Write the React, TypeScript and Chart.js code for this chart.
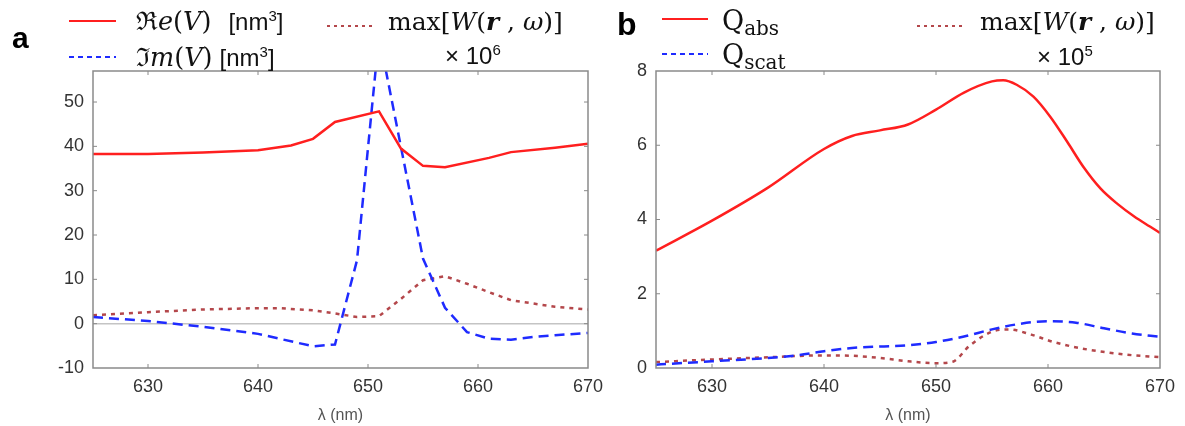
import React, { useEffect, useRef } from "react";
import { Chart, registerables } from "chart.js";

Chart.register(...registerables);

// ---------- data ----------
const LAMBDA_TICKS = [630, 640, 650, 660, 670];
const A_Y_TICKS = [-10, 0, 10, 20, 30, 40, 50];
const B_Y_TICKS = [0, 2, 4, 6, 8];

// panel a
const A_RE_X = [625, 630, 635, 640, 643, 645, 647, 651, 653, 655, 657, 661, 663, 667, 670];
const A_RE_Y = [38.3, 38.3, 38.6, 39.1, 40.2, 41.7, 45.5, 47.9, 39.5, 35.6, 35.3, 37.4, 38.7, 39.7, 40.6];

const A_IM_X = [625, 630, 635, 640, 645, 647, 649, 651, 653, 655, 657, 659, 661, 663, 665, 667, 670];
const A_IM_Y = [1.5, 0.6, -0.7, -2.3, -5.1, -4.7, 14.3, 65, 39.8, 14.7, 3.6, -1.9, -3.4, -3.6, -3.0, -2.6, -2.1];

const A_W_X = [625, 630, 635, 640, 642, 645, 647, 649, 651, 653, 655, 657, 659, 661, 663, 667, 670];
const A_W_Y = [1.9, 2.6, 3.2, 3.5, 3.5, 3.0, 2.3, 1.5, 1.7, 5.6, 9.8, 10.7, 9.0, 7.1, 5.3, 3.8, 3.2];

// panel b
const B_ABS_X = [625, 630, 635, 640, 642.5, 645, 647.5, 650, 652.5, 655, 656, 657.2, 658.7, 660.2, 661.7, 663.2, 664.7, 666.2, 667.7, 669.1, 670];
const B_ABS_Y = [3.16, 3.97, 4.86, 5.9, 6.25, 6.4, 6.56, 6.96, 7.42, 7.72, 7.75, 7.63, 7.31, 6.77, 6.1, 5.4, 4.83, 4.42, 4.08, 3.81, 3.64];

const B_SCAT_X = [625, 630, 635, 637.5, 640, 642.5, 645, 647.5, 650, 652.5, 655, 657.5, 660, 662.5, 665, 667.5, 670];
const B_SCAT_Y = [0.09, 0.18, 0.27, 0.34, 0.45, 0.54, 0.58, 0.61, 0.7, 0.85, 1.04, 1.19, 1.26, 1.22, 1.07, 0.93, 0.84];

const B_W_X = [625, 630, 635, 640, 642.5, 645, 647.5, 650, 651.5, 653, 655, 656.5, 658.5, 660.5, 663.5, 667, 670];
const B_W_Y = [0.16, 0.23, 0.29, 0.34, 0.33, 0.27, 0.18, 0.13, 0.17, 0.6, 0.98, 1.04, 0.9, 0.7, 0.5, 0.36, 0.29];

// ---------- styles ----------
const RED = "#ff1f1f";
const BLUE = "#1f2bff";
const BROWN = "#b4474b";
const FRAME = "#8a8a8a";
const TICK_FONT = "'Liberation Sans', Arial, sans-serif";
const SERIF = "'DejaVu Serif', 'Liberation Serif', serif";

function pts(xs: number[], ys: number[]) {
  return xs.map((x, i) => ({ x, y: ys[i] }));
}

const framePlugin = {
  id: "frame",
  afterDatasetsDraw(chart: any) {
    const { ctx, chartArea, scales } = chart;
    const { left, right, top, bottom } = chartArea;
    ctx.save();
    ctx.strokeStyle = FRAME;
    ctx.lineWidth = 1.5;
    ctx.strokeRect(left, top, right - left, bottom - top);
    ctx.lineWidth = 1;
    const L = 4;
    const seg = (x1: number, y1: number, x2: number, y2: number) => {
      ctx.beginPath();
      ctx.moveTo(x1, y1);
      ctx.lineTo(x2, y2);
      ctx.stroke();
    };
    scales.x.ticks.forEach((t: any) => {
      const px = scales.x.getPixelForValue(t.value);
      if (px <= left + 1 || px >= right - 1) return;
      seg(px, bottom, px, bottom - L);
      seg(px, top, px, top + L);
    });
    scales.y.ticks.forEach((t: any) => {
      const py = scales.y.getPixelForValue(t.value);
      if (py <= top + 1 || py >= bottom - 1) return;
      seg(left, py, left + L, py);
      seg(right, py, right - L, py);
    });
    ctx.restore();
  },
};

type PanelProps = {
  left: number;
  width: number;
  yAxisWidth: number;
  padRight: number;
  yMin: number;
  yMax: number;
  yTicks: number[];
  zeroLine: boolean;
  smooth: boolean;
  datasets: any[];
};

function Panel(p: PanelProps) {
  const ref = useRef<HTMLCanvasElement | null>(null);
  useEffect(() => {
    if (!ref.current) return;
    const chart = new Chart(ref.current, {
      type: "line",
      data: {
        datasets: p.datasets.map((d) => ({
          ...d,
          pointRadius: 0,
          fill: false,
          borderWidth: 2.5,
          tension: 0,
          cubicInterpolationMode: p.smooth ? "monotone" : "default",
        })),
      },
      options: {
        responsive: false,
        animation: false,
        events: [],
        layout: { padding: { top: 71, right: p.padRight, bottom: 0, left: 0 } },
        plugins: { legend: { display: false }, tooltip: { enabled: false } },
        scales: {
          x: {
            type: "linear",
            min: 625,
            max: 670,
            afterBuildTicks: (s: any) => {
              s.ticks = LAMBDA_TICKS.map((v) => ({ value: v }));
            },
            afterFit: (s: any) => {
              s.height = 58;
              s.paddingLeft = 0;
              s.paddingRight = 0;
            },
            grid: { drawOnChartArea: false, drawTicks: false },
            border: { display: false },
            ticks: {
              padding: 8,
              color: "#333",
              maxRotation: 0,
              autoSkip: false,
              font: { family: TICK_FONT, size: 18 },
            },
            title: {
              display: true,
              text: "λ (nm)",
              color: "#555",
              font: { family: TICK_FONT, size: 16 },
              padding: { top: 0, bottom: 1 },
            },
          },
          y: {
            type: "linear",
            min: p.yMin,
            max: p.yMax,
            afterBuildTicks: (s: any) => {
              s.ticks = p.yTicks.map((v) => ({ value: v }));
            },
            afterFit: (s: any) => {
              s.width = p.yAxisWidth;
              s.paddingTop = 0;
              s.paddingBottom = 0;
            },
            grid: {
              drawTicks: false,
              lineWidth: 1.5,
              color: (c: any) =>
                p.zeroLine && c.tick && c.tick.value === 0 ? "#c4c4c4" : "rgba(0,0,0,0)",
            },
            border: { display: false },
            ticks: {
              padding: 9,
              color: "#333",
              autoSkip: false,
              font: { family: TICK_FONT, size: 18 },
            },
          },
        },
      },
      plugins: [framePlugin],
    } as any);
    return () => chart.destroy();
  }, []);
  return (
    <canvas
      ref={ref}
      width={p.width}
      height={426}
      style={{ position: "absolute", left: p.left, top: 0, width: p.width, height: 426 }}
    />
  );
}

const abs = (left: number, top: number, extra: any = {}): any => ({
  position: "absolute",
  left,
  top,
  whiteSpace: "nowrap",
  lineHeight: 1,
  color: "#111",
  ...extra,
});

export default function App() {
  const aSets = [
    { data: pts(A_RE_X, A_RE_Y), borderColor: RED },
    { data: pts(A_IM_X, A_IM_Y), borderColor: BLUE, borderDash: [10, 6] },
    { data: pts(A_W_X, A_W_Y), borderColor: BROWN, borderDash: [4, 5] },
  ];
  const bSets = [
    { data: pts(B_ABS_X, B_ABS_Y), borderColor: RED },
    { data: pts(B_SCAT_X, B_SCAT_Y), borderColor: BLUE, borderDash: [10, 6] },
    { data: pts(B_W_X, B_W_Y), borderColor: BROWN, borderDash: [4, 5] },
  ];
  const mathFont = { fontFamily: SERIF, fontSize: 25.5 };
  const sansFont = { fontFamily: TICK_FONT, fontSize: 24 };
  const sup = { fontSize: 15 };
  return (
    <div style={{ position: "absolute", left: 0, top: 0, width: 1185, height: 426, background: "#fff", overflow: "hidden" }}>
      <Panel
        left={600}
        width={585}
        yAxisWidth={56}
        padRight={25}
        yMin={0}
        yMax={8}
        yTicks={B_Y_TICKS}
        zeroLine={false}
        smooth={true}
        datasets={bSets}
      />
      <Panel
        left={0}
        width={625}
        yAxisWidth={93}
        padRight={37}
        yMin={-10}
        yMax={57}
        yTicks={A_Y_TICKS}
        zeroLine={true}
        smooth={false}
        datasets={aSets}
      />
      <svg width={1185} height={80} style={{ position: "absolute", left: 0, top: 0 }}>
        <line x1={69} y1={21} x2={116} y2={21} stroke={RED} strokeWidth={2} />
        <line x1={69} y1={57} x2={116} y2={57} stroke={BLUE} strokeWidth={2} strokeDasharray="5 4" />
        <line x1={327} y1={26} x2={373} y2={26} stroke={BROWN} strokeWidth={2} strokeDasharray="3 4" />
        <line x1={662} y1={19} x2={708} y2={19} stroke={RED} strokeWidth={2} />
        <line x1={662} y1={54} x2={708} y2={54} stroke={BLUE} strokeWidth={2} strokeDasharray="5 4" />
        <line x1={917} y1={26} x2={963} y2={26} stroke={BROWN} strokeWidth={2} strokeDasharray="3 4" />
      </svg>
      <div style={abs(12, 23, { fontFamily: TICK_FONT, fontSize: 30, fontWeight: "bold", color: "#000" })}>a</div>
      <div style={abs(617, 8, { fontFamily: TICK_FONT, fontSize: 32, fontWeight: "bold", color: "#000" })}>b</div>

      <div style={abs(136, 8)}>
        <span style={mathFont}>
          ℜ<i>e</i>(<i>V</i>)
        </span>
        <span style={{ ...sansFont, marginLeft: 17 }}>
          [nm<sup style={sup}>3</sup>]
        </span>
      </div>
      <div style={abs(136, 44)}>
        <span style={mathFont}>
          ℑ<i>m</i>(<i>V</i>)
        </span>
        <span style={{ ...sansFont, marginLeft: 7 }}>
          [nm<sup style={sup}>3</sup>]
        </span>
      </div>
      <div style={abs(388, 9, { fontFamily: SERIF, fontSize: 25 })}>
        max[<i>W</i>(<b><i>r</i></b> , <i>ω</i>)]
      </div>
      <div style={abs(445, 42, { fontFamily: TICK_FONT, fontSize: 24 })}>
        ×&nbsp;10<sup style={sup}>6</sup>
      </div>

      <div style={abs(722, 7, { fontFamily: SERIF, fontSize: 27 })}>
        Q<sub style={{ fontSize: 20, verticalAlign: "-5px" }}>abs</sub>
      </div>
      <div style={abs(722, 41, { fontFamily: SERIF, fontSize: 27 })}>
        Q<sub style={{ fontSize: 20, verticalAlign: "-5px" }}>scat</sub>
      </div>
      <div style={abs(980, 9, { fontFamily: SERIF, fontSize: 25 })}>
        max[<i>W</i>(<b><i>r</i></b> , <i>ω</i>)]
      </div>
      <div style={abs(1037, 43, { fontFamily: TICK_FONT, fontSize: 24 })}>
        ×&nbsp;10<sup style={sup}>5</sup>
      </div>
    </div>
  );
}
